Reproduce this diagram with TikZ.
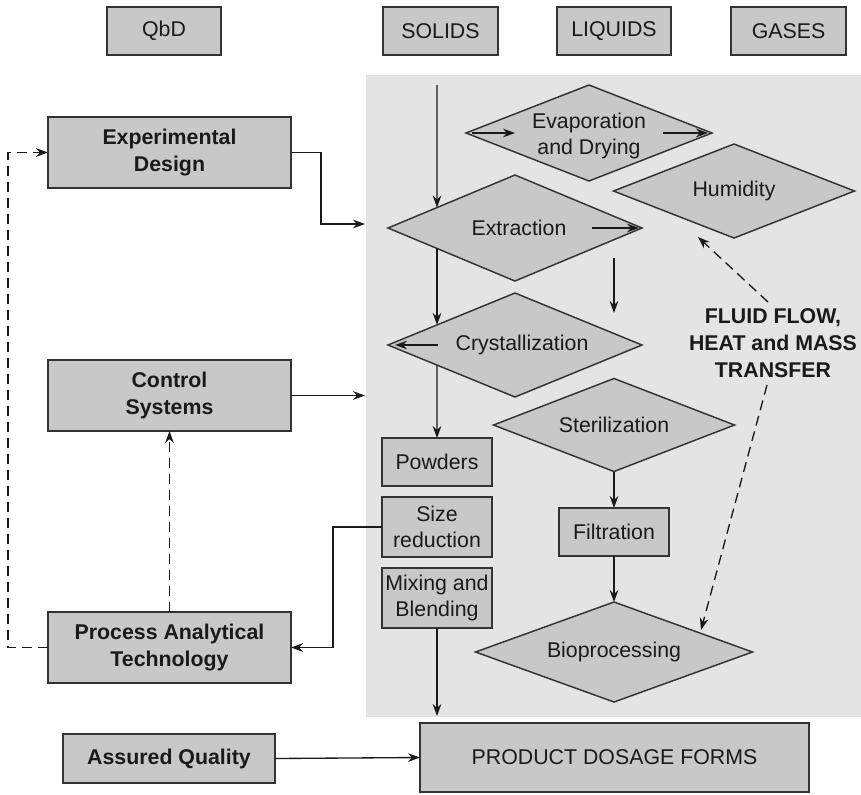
\documentclass[tikz,border=0pt]{standalone}
\usepackage{fontspec}
\setmainfont{Liberation Sans}
\usetikzlibrary{shapes.geometric,arrows.meta,calc}
\definecolor{boxgray}{HTML}{C8C8C8}
\definecolor{panelgray}{HTML}{E4E4E4}
\definecolor{edgegray}{HTML}{333333}
\definecolor{ink}{HTML}{1A1A1A}
% one drawing unit = 0.75pt
\newcommand{\pxu}{*0.75pt}

\begin{document}
\begin{tikzpicture}[x=0.75pt,y=-0.75pt,
  every node/.style={font=\fontsize{16}{20}\selectfont, text=ink},
  box/.style={draw=edgegray, line width=1.1pt, fill=boxgray, inner sep=0pt, outer sep=0pt, align=center},
  bbox/.style={box, font=\fontsize{16}{20}\selectfont\bfseries},
  dia/.style={diamond, draw=edgegray, line width=1.1pt, fill=boxgray, inner sep=0pt, outer sep=0pt},
  dtext/.style={align=center, inner sep=0pt},
  link/.style={draw=ink, line width=1pt, -{Stealth[length=9pt,width=6.5pt]}},
  dlink/.style={link, dash pattern=on 7.5pt off 4.5pt},
]
\useasboundingbox (0,0) rectangle (861,794);

% unit operations panel
\fill[panelgray] (366,75) rectangle (861,717);

% column headers
\node[box, minimum width=114\pxu, minimum height=48\pxu] (qbd) at (164,31) {QbD};
\node[box, minimum width=115\pxu, minimum height=48\pxu] (solids) at (440.5,31) {SOLIDS};
\node[box, minimum width=114\pxu, minimum height=48\pxu] (liquids) at (614,31) {LIQUIDS};
\node[box, minimum width=115\pxu, minimum height=48\pxu] (gases) at (788.5,31) {GASES};

% QbD column
\node[bbox, minimum width=243\pxu, minimum height=71\pxu] (ed) at (169.5,152.5) {Experimental\\Design};
\node[bbox, minimum width=243\pxu, minimum height=71\pxu] (cs) at (169.5,395.5) {Control\\Systems};
\node[bbox, minimum width=243\pxu, minimum height=71\pxu] (pat) at (169.5,647.5) {Process Analytical\\Technology};
\node[bbox, minimum width=212\pxu, minimum height=49\pxu] (aq) at (169,758.5) {Assured Quality};

% solids column boxes
\node[box, minimum width=110\pxu, minimum height=48\pxu] (powd) at (437,462) {Powders};
\node[box, minimum width=110\pxu, minimum height=60\pxu] (sizer) at (437,527) {Size\\reduction};
\node[box, minimum width=110\pxu, minimum height=60\pxu] (mix) at (437,598) {Mixing and\\Blending};
\node[box, minimum width=110\pxu, minimum height=48\pxu] (filt) at (614,532) {Filtration};
\node[box, minimum width=389\pxu, minimum height=69\pxu] (pdf) at (614.5,757.5) {PRODUCT DOSAGE FORMS};

% process diamonds
\node[dia, minimum width=246\pxu, minimum height=96\pxu,
  label={[dtext,yshift=-3\pxu]center:{Evaporation\\and Drying}}] (evap) at (589,133) {};
\node[dia, minimum width=254\pxu, minimum height=106\pxu,
  label={[dtext,xshift=4\pxu]center:Extraction}] (extr) at (515,228) {};
\node[dia, minimum width=241\pxu, minimum height=94\pxu,
  label={[dtext]center:Humidity}] (humid) at (734,191) {};
\node[dia, minimum width=254\pxu, minimum height=104\pxu,
  label={[dtext,xshift=7\pxu]center:Crystallization}] (cryst) at (515,345) {};
\node[dia, minimum width=241\pxu, minimum height=93\pxu,
  label={[dtext]center:Sterilization}] (steril) at (614,425) {};
\node[dia, minimum width=277\pxu, minimum height=100\pxu,
  label={[dtext]center:Bioprocessing}] (bio) at (614,652) {};

\node[dtext, font=\fontsize{16}{20}\selectfont\bfseries] (fluid) at (773,343) {FLUID FLOW,\\HEAT and MASS\\TRANSFER};

% free ends
\coordinate (edin) at (365,224);
\coordinate (csin) at (365,395.5);
\coordinate (mixout) at (437,716);
\coordinate (stop) at (437,85);
\coordinate (drop1) at (614,258);
\coordinate (drop2) at (614,313);
\coordinate (fl1) at (768,302);
\coordinate (fl2) at (698,237);
\coordinate (fl3) at (767,385);
\coordinate (fl4) at (701,630);

% QbD connectors
\draw[link] (ed.east) -- ++(30,0) |- (edin);
\draw[link] (cs.east) -- (csin);
\draw[link] (sizer.west) -- ++(-49,0) |- (pat.east);
\draw[dlink] (pat.west) -- ++(-40,0) |- (ed.west);
\draw[dlink] (pat.north) -- (cs.south);
\draw[link] (aq.east) -- (pdf.west);

% solids flow
\draw[link] (stop) -- ($(extr.west)!0.386!(extr.north)$);
\draw[link] ($(extr.west)!0.386!(extr.south)$) -- ($(cryst.west)!0.386!(cryst.north)$);
\draw[link] ($(cryst.west)!0.386!(cryst.south)$) -- (powd.north);
\draw[link] (mix.south) -- (mixout);

% liquids flow
\draw[link] (drop1) -- (drop2);
\draw[link] (steril.south) -- (filt.north);
\draw[link] (filt.south) -- (bio.north);

% arrows inside diamonds
\draw[link] ($(evap.west)+(6,0)$) -- ($(evap.west)+(49,0)$);
\draw[link] ($(evap.east)+(-49,0)$) -- ($(evap.east)+(-4,0)$);
\draw[link] ($(extr.east)+(-50,0)$) -- ($(extr.east)+(-3,0)$);
\draw[link] ($(cryst.west)+(50,0)$) -- ($(cryst.west)+(7,0)$);

% transport phenomena links
\draw[dlink] (fl1) -- (fl2);
\draw[dlink] (fl3) -- (fl4);
\end{tikzpicture}
\end{document}
